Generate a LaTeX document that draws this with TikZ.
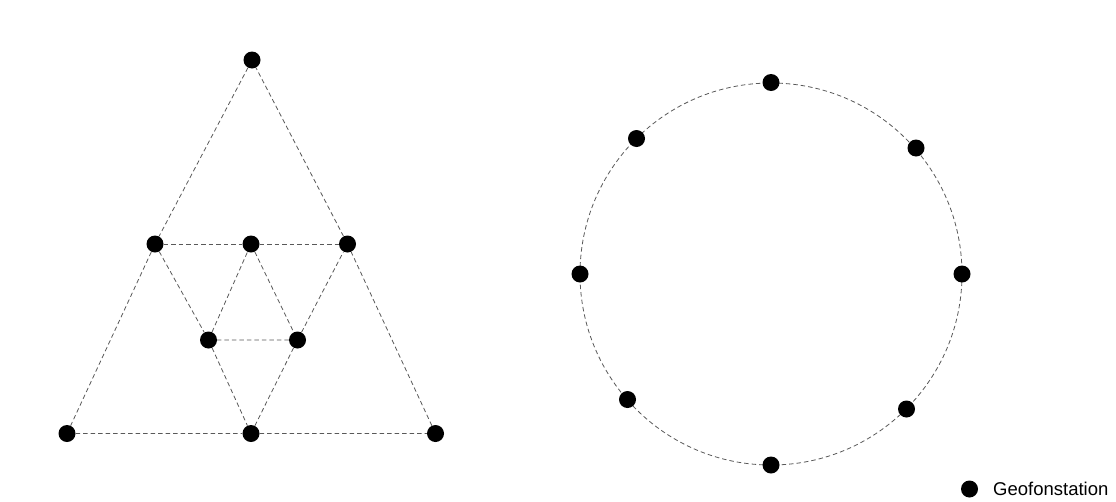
\documentclass[tikz,border=0pt]{standalone}
\usepackage{fontspec}
\setmainfont{Liberation Sans}
\begin{document}
\begin{tikzpicture}[x=1pt,y=-1pt,
  station/.style={circle,fill=black,inner sep=0pt,minimum size=17pt},
  link/.style={draw=black!65,line width=0.8pt,dash pattern=on 4.5pt off 3pt}]
\useasboundingbox (0,0) rectangle (1116,501);
% triangle stations
\node[station] (t) at (252,60) {};
\node[station] (ml) at (155,244) {};
\node[station] (mc) at (251,244) {};
\node[station] (mr) at (347.5,244) {};
\node[station] (il) at (208.5,340) {};
\node[station] (ir) at (297.5,340) {};
\node[station] (bl) at (67,433.5) {};
\node[station] (bc) at (251,433.5) {};
\node[station] (br) at (435.5,433.5) {};
\begin{scope}[on background layer/.try]
\end{scope}
\path[link] (t) -- (ml) -- (bl) -- (bc) -- (br) -- (mr) -- (t);
\path[link] (ml) -- (mc) -- (mr);
\path[link] (ml) -- (il) -- (bc) -- (ir) -- (mr);
\path[link] (il) -- (mc) -- (ir) -- (il);
% circle
\coordinate (c) at (771,274);
\path[link] (c) circle[radius=191];
\node[station] (c1) at (771,82.5) {};
\node[station] (c2) at (916,148) {};
\node[station] (c3) at (962,274) {};
\node[station] (c4) at (906.5,409) {};
\node[station] (c5) at (771,465) {};
\node[station] (c6) at (627.5,399.5) {};
\node[station] (c7) at (580,274) {};
\node[station] (c8) at (636.5,138.5) {};
% legend
\node[station,minimum size=17pt] (leg) at (969.5,489) {};
\node[anchor=west,inner sep=0pt,font=\fontsize{18.5}{20}\selectfont] (legt) at (993,489) {Geofonstation};
\end{tikzpicture}
\end{document}
